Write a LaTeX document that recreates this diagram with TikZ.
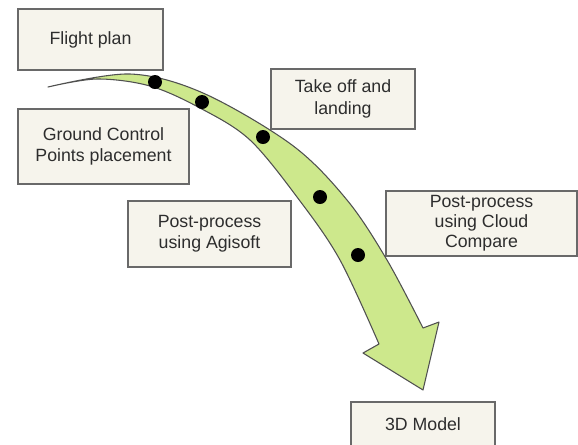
\documentclass[tikz,border=0pt]{standalone}
\usepackage{fontspec}
\setmainfont{Liberation Sans}
\usepackage{xcolor}
\usetikzlibrary{positioning}
\definecolor{boxfill}{RGB}{246,244,236}
\definecolor{boxline}{RGB}{105,105,105}
\definecolor{arrowgreen}{RGB}{205,232,140}
\definecolor{arrowline}{RGB}{80,80,80}
\definecolor{textgray}{RGB}{45,45,45}

\begin{document}
\begin{tikzpicture}[x=0.75pt, y=-0.75pt,
  every node/.style={font=\fontsize{13.3}{16}\selectfont, text=textgray},
  stagebox/.style={draw=boxline, fill=boxfill, line width=1.3pt, rectangle, align=center, inner sep=2pt},
  stopdot/.style={circle, fill=black, inner sep=0pt, minimum size=10.5pt}]
  \useasboundingbox (0,0) rectangle (578,444);

  % Boxes
  \node[stagebox, minimum width=108.75pt, minimum height=45.75pt] (flight) at (90.5,39.5) {Flight plan};
  \node[stagebox, minimum width=128.25pt, minimum height=56.25pt] (gcp) at (103.5,146.5) {Ground Control\\Points placement};
  \node[stagebox, minimum width=108pt, minimum height=45pt] (takeoff) at (343,99) {Take off and\\landing};
  \node[stagebox, minimum width=122.25pt, minimum height=49.5pt] (agisoft) at (209.5,234) {Post-process\\using Agisoft};
  \node[stagebox, minimum width=143.25pt, minimum height=48.75pt, font=\fontsize{13.3}{15}\selectfont] (cloud) at (481.5,223.5) {Post-process\\using Cloud\\Compare};
  \node[stagebox, minimum width=108pt, minimum height=33pt] (model) at (423,424) {3D Model};

  % Curved arrow
  \draw[draw=arrowline, fill=arrowgreen, line width=0.8pt, line join=round]
    plot[smooth, tension=0.55] coordinates {(48,87) (130,74) (203,93) (292,145) (347,200) (387,260) (423,328)}
    -- (439,322) -- (423,390) -- (363,353) -- (379,344)
    -- plot[smooth, tension=0.55] coordinates {(379,344) (340,260) (300,201) (250,140) (200,108) (150,86) (97,79) (48,87)}
    -- cycle;

  % Stops
  \node[stopdot] (stopA) at (155,82) {};
  \node[stopdot] (stopB) at (202,102) {};
  \node[stopdot] (stopC) at (263,137) {};
  \node[stopdot] (stopD) at (320,197) {};
  \node[stopdot] (stopE) at (358,255) {};
\end{tikzpicture}
\end{document}
